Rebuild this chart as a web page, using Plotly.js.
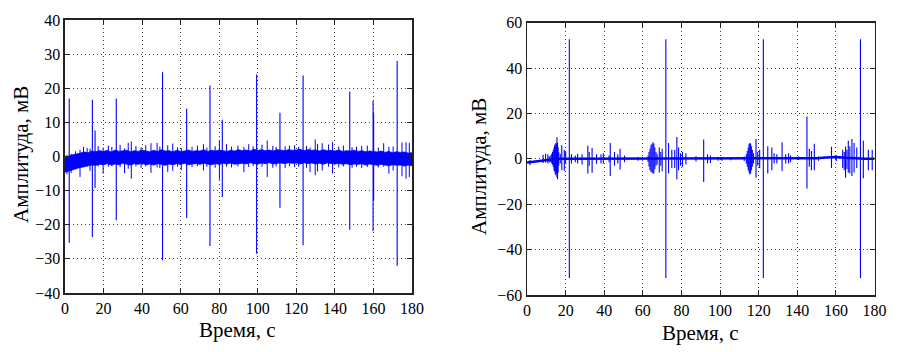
<!DOCTYPE html>
<html>
<head>
<meta charset="utf-8">
<script src="https://cdn.plot.ly/plotly-3.0.1.min.js"></script>
<style>html,body{margin:0;padding:0;background:#fff;}#chart{width:900px;height:352px;}</style>
</head>
<body>
<div id="chart"></div>
<script>
// ---------- Left panel data ----------
const leftTicksX = [0,20,40,60,80,100,120,140,160,180];
const leftTicksY = [-40,-30,-20,-10,0,10,20,30,40];

// dense noise band envelope (time, upper, lower)
const leftBandT = [0,2,4,6,8,10,12,14,16,18,20,22,24,26,28,30,32,34,36,38,40,42,44,46,48,50,52,54,56,58,60,62,64,66,68,70,72,74,76,78,80,82,84,86,88,90,92,94,96,98,100,102,104,106,108,110,112,114,116,118,120,122,124,126,128,130,132,134,136,138,140,142,144,146,148,150,152,154,156,158,160,162,164,166,168,170,172,174,176,178,180];
const leftBandHi = [-0.3,0.2,0.5,0.7,1.0,1.3,1.1,1.6,1.4,1.7,
  1.5,1.8,1.3,1.9,1.5,1.6,1.8,1.4,1.7,1.5,
  1.9,1.6,1.4,1.8,1.5,2.0,1.6,1.7,1.4,1.8,
  1.5,1.6,1.9,1.5,1.7,1.6,2.0,1.5,1.8,1.6,
  1.9,1.7,1.5,1.8,1.6,2.0,1.7,1.9,1.6,2.1,
  1.8,2.0,1.7,1.9,1.6,2.0,1.8,1.7,2.0,1.8,
  1.9,2.1,1.7,2.0,1.8,1.9,1.6,2.0,1.7,1.8,
  1.6,1.9,1.5,1.7,1.6,1.8,1.5,1.7,1.4,1.6,
  1.5,1.3,1.6,1.2,1.5,1.1,1.4,1.2,1.3,1.0,1.1];
const leftBandLo = [-4.6,-4.3,-3.9,-3.5,-3.2,-2.9,-2.7,-2.5,-2.6,-2.3,
  -2.4,-2.1,-2.5,-2.2,-2.4,-2.0,-2.3,-2.5,-2.1,-2.3,
  -2.0,-2.4,-2.2,-2.5,-2.1,-2.3,-2.6,-2.2,-2.4,-2.1,
  -2.3,-2.0,-2.4,-2.2,-2.1,-2.3,-2.0,-2.2,-2.4,-2.1,
  -2.3,-2.0,-2.2,-1.9,-2.3,-2.1,-2.0,-2.2,-1.8,-2.1,
  -2.2,-1.9,-2.1,-1.8,-2.2,-2.0,-1.9,-2.1,-1.8,-2.0,
  -1.9,-2.2,-1.8,-2.1,-1.9,-2.2,-2.0,-2.3,-1.9,-2.1,
  -2.2,-2.0,-2.3,-2.1,-2.4,-2.2,-2.3,-2.1,-2.5,-2.2,
  -2.4,-2.6,-2.3,-2.5,-2.7,-2.4,-2.6,-2.5,-2.8,-2.5,-2.7];

// small noise spikes
const leftNoiseT  = [1.0,3.2,5.5,7.8,9.6,11.5,13.0,17.2,19.8,22.5,24.3,28.6,30.9,32.8,34.4,36.8,39.5,41.9,44.6,47.8,49.2,53.3,55.9,58.4,60.3,65.9,68.7,71.8,73.6,77.9,80.1,83.8,86.4,89.7,92.8,95.3,97.6,102.2,104.9,107.8,109.5,114.2,116.4,119.1,121.2,125.3,127.1,129.8,131.0,133.4,136.7,138.8,142.0,144.4,148.9,151.2,153.9,156.8,162.5,165.3,168.0,170.2,174.8,176.9,178.6];
const leftNoiseHi = [0.5,0.8,1.5,2.0,2.8,2.5,2.3,3.0,2.6,3.2,2.8,3.4,2.4,4.0,4.4,3.1,2.7,3.3,3.9,4.0,2.9,3.3,3.8,2.7,2.5,2.8,3.2,3.6,2.6,3.0,4.7,3.6,2.9,3.2,2.8,3.6,3.0,3.5,4.7,3.1,2.8,3.0,3.2,3.3,2.8,3.1,2.6,5.0,3.7,3.9,3.5,4.3,2.9,3.2,2.7,2.9,3.1,3.2,2.6,3.9,2.8,2.9,4.1,4.2,4.0];
const leftNoiseLo = [-5.2,-4.8,-3.8,-6.0,-3.2,-3.0,-4.2,-2.9,-5.0,-3.0,-2.8,-3.1,-4.9,-3.6,-6.5,-2.9,-3.3,-2.9,-4.8,-3.2,-3.4,-4.5,-4.2,-3.0,-4.0,-3.1,-2.8,-4.1,-3.0,-3.3,-6.8,-3.0,-3.2,-2.9,-4.6,-3.1,-2.8,-3.0,-6.0,-3.3,-2.9,-3.4,-2.8,-3.1,-3.0,-3.3,-4.6,-5.5,-4.4,-4.1,-3.0,-5.0,-3.2,-2.9,-3.3,-3.0,-3.4,-3.1,-3.2,-3.0,-5.0,-4.1,-5.8,-6.5,-6.0];

// large spikes
const leftSpikeT  = [2.2,14.2,15.6,26.6,50.6,63.1,75.2,81.6,99.4,111.5,123.5,147.7,159.8,160.1,172.3];
const leftSpikeHi = [17.0,16.6,7.6,17.0,24.7,14.0,20.8,10.8,24.0,12.8,23.7,19.0,16.3,12.7,28.0];
const leftSpikeLo = [-25.3,-23.6,-9.2,-18.7,-30.4,-18.0,-26.2,-11.9,-28.5,-15.0,-26.0,-21.5,-21.9,-12.9,-32.0];

// ---------- Right panel data ----------
const rightTicksX = [0,20,40,60,80,100,120,140,160,180];
const rightTicksY = [-60,-40,-20,0,20,40,60];

const rightBaseT = [0,2,4,6,8,10,12,14,16,20,40,60,80,100,120,140,150,155,160,165,170,175,180];
const rightBaseV = [-1.6,-1.4,-1.2,-1.0,-0.8,-0.6,-0.4,-0.2,0,0,0,0,0,0,0,0.1,0.3,0.6,0.8,0.5,0.2,0.1,0];

const rightSpikeT = [1.5,8.3,9.6,10.8,11.5,
  12.3,12.8,13.2,13.6,14.0,14.3,14.6,14.9,15.2,15.5,15.8,16.1,16.4,
  17.2,18.0,19.3,20.0,21.9,23.0,25.0,26.2,28.5,31.5,32.2,33.7,36.0,38.3,39.5,42.5,43.1,45.3,47.0,48.2,50.5,
  57.5,59.8,62.7,63.2,63.7,64.2,64.7,65.2,65.7,66.2,66.8,67.4,
  68.5,69.3,70.0,71.9,73.3,75.0,76.5,77.6,78.5,79.5,80.5,82.3,87.5,91.5,93.5,95.0,99.0,101.0,105.5,
  112.5,113.6,114.1,114.6,115.0,115.4,115.8,116.2,116.7,117.3,
  118.6,119.5,120.5,122.4,124.7,126.8,128.0,129.4,132.1,134.0,135.5,136.5,140.7,145.0,146.2,147.3,148.8,151.0,157.7,160.2,
  163.5,164.3,165.0,165.7,166.4,167.2,168.3,169.4,170.8,172.7,174.2,176.8,178.8];
const rightSpikeHi = [-0.5,1.8,2.2,2.0,1.2,
  1.5,2.2,3.0,4.0,5.0,6.2,5.6,7.0,6.5,9.5,7.2,5.0,3.0,
  2.2,6.0,4.0,3.0,52.7,2.0,1.5,2.2,2.0,5.8,3.0,4.8,2.0,2.0,2.5,1.5,7.0,3.0,2.0,4.4,1.5,
  0.8,0.8,1.5,3.0,4.5,6.0,6.5,7.3,6.8,5.0,3.0,2.0,
  5.0,3.0,4.5,52.7,7.0,4.0,4.0,9.6,5.0,2.5,3.0,2.5,1.2,8.5,2.0,1.5,0.8,0.8,0.6,
  1.0,2.0,3.5,5.0,6.5,7.0,6.8,5.5,4.0,2.5,
  8.8,3.0,4.0,52.7,5.5,5.0,2.5,2.0,7.3,2.0,2.5,1.5,1.0,18.7,4.5,3.5,6.7,1.0,5.3,1.5,
  4.0,3.0,5.4,4.0,8.0,5.5,8.8,7.0,5.0,52.7,8.0,4.0,4.0];
const rightSpikeLo = [-2.8,-1.8,-1.6,-2.0,-1.5,
  -1.5,-2.0,-2.6,-3.6,-5.0,-5.6,-6.6,-7.2,-6.2,-8.0,-9.0,-6.0,-3.2,
  -2.0,-5.0,-5.2,-2.2,-52.5,-2.0,-1.5,-2.0,-2.5,-6.4,-3.0,-6.1,-2.2,-2.0,-2.0,-1.5,-7.6,-3.0,-2.0,-4.7,-1.5,
  -0.8,-0.8,-1.5,-3.5,-5.0,-5.8,-6.0,-6.4,-6.5,-4.5,-3.0,-2.5,
  -6.0,-3.0,-5.5,-52.5,-6.5,-4.0,-4.0,-9.0,-5.0,-3.0,-3.5,-2.5,-1.2,-10.2,-2.0,-1.8,-0.8,-0.8,-0.6,
  -1.0,-2.0,-3.5,-5.0,-6.0,-6.9,-6.5,-5.0,-3.5,-2.0,
  -8.3,-3.0,-4.0,-52.5,-6.5,-5.0,-2.0,-2.0,-5.4,-2.0,-2.0,-1.5,-0.5,-13.1,-3.5,-5.0,-5.0,-0.8,-4.0,-1.0,
  -4.0,-5.0,-8.3,-4.5,-6.0,-6.5,-7.6,-6.0,-4.0,-52.5,-8.5,-5.0,-5.0];

// ---------- helpers ----------
const BLUE = '#0000ff';
function spikePath(t, hi, lo) {
  const x = [], y = [];
  for (let i = 0; i < t.length; i++) { x.push(t[i], t[i], null); y.push(hi[i], lo[i], null); }
  return {x, y};
}
function bandPath(t, hi, lo) {
  return {x: t.concat(t.slice().reverse()), y: hi.concat(lo.slice().reverse())};
}

const lb = bandPath(leftBandT, leftBandHi, leftBandLo);
const ln = spikePath(leftNoiseT, leftNoiseHi, leftNoiseLo);
const ls = spikePath(leftSpikeT, leftSpikeHi, leftSpikeLo);
const rs = spikePath(rightSpikeT, rightSpikeHi, rightSpikeLo);

const traces = [
  {x: lb.x, y: lb.y, xaxis:'x', yaxis:'y', type:'scatter', mode:'lines', fill:'toself', fillcolor:BLUE, line:{color:BLUE, width:0.8}, hoverinfo:'skip'},
  {x: ln.x, y: ln.y, xaxis:'x', yaxis:'y', type:'scatter', mode:'lines', line:{color:BLUE, width:1}, connectgaps:false, hoverinfo:'skip'},
  {x: ls.x, y: ls.y, xaxis:'x', yaxis:'y', type:'scatter', mode:'lines', line:{color:BLUE, width:1.1}, connectgaps:false, hoverinfo:'skip'},
  {x: rightBaseT, y: rightBaseV, xaxis:'x2', yaxis:'y2', type:'scatter', mode:'lines', line:{color:BLUE, width:2.5}, hoverinfo:'skip'},
  {x: rs.x, y: rs.y, xaxis:'x2', yaxis:'y2', type:'scatter', mode:'lines', line:{color:BLUE, width:1.1}, connectgaps:false, hoverinfo:'skip'}
];

const FONT = 'Liberation Serif';
function ax(extra) {
  return Object.assign({
    showline:true, linecolor:'#222', linewidth:1.5, mirror:'ticks',
    ticks:'inside', ticklen:5, tickcolor:'#222', tickwidth:1,
    showgrid:true, gridcolor:'#444', griddash:'1px,3px', gridwidth:1,
    zeroline:false, fixedrange:true,
    tickfont:{family:FONT, size:16, color:'#000'}
  }, extra);
}

const layout = {
  width:900, height:352, autosize:false,
  margin:{l:0, r:0, t:0, b:0},
  paper_bgcolor:'#fff', plot_bgcolor:'#fff',
  showlegend:false,
  font:{family:FONT, color:'#000'},
  xaxis: ax({domain:[0.0722,0.4578], range:[0,180], tickvals:leftTicksX, anchor:'y'}),
  yaxis: ax({domain:[0.1676,0.9432], range:[-40,40], tickvals:leftTicksY, anchor:'x'}),
  xaxis2: ax({domain:[0.5856,0.9717], range:[0,180], tickvals:rightTicksX, anchor:'y2'}),
  yaxis2: ax({domain:[0.1619,0.9355], range:[-60,60], tickvals:rightTicksY, anchor:'x2'}),
  annotations: [
    {text:'Амплитуда, мВ', xref:'paper', yref:'paper', x:21/900, y:1-155/352, textangle:-90, showarrow:false, xanchor:'center', yanchor:'middle', font:{family:FONT, size:21, color:'#000'}},
    {text:'Время, с', xref:'paper', yref:'paper', x:238/900, y:1-330/352, showarrow:false, xanchor:'center', yanchor:'middle', font:{family:FONT, size:21, color:'#000'}},
    {text:'Амплитуда, мВ', xref:'paper', yref:'paper', x:479/900, y:1-167/352, textangle:-90, showarrow:false, xanchor:'center', yanchor:'middle', font:{family:FONT, size:21, color:'#000'}},
    {text:'Время, с', xref:'paper', yref:'paper', x:700/900, y:1-333/352, showarrow:false, xanchor:'center', yanchor:'middle', font:{family:FONT, size:21, color:'#000'}}
  ]
};

Plotly.newPlot('chart', traces, layout, {staticPlot:true, displayModeBar:false});
</script>
</body>
</html>
